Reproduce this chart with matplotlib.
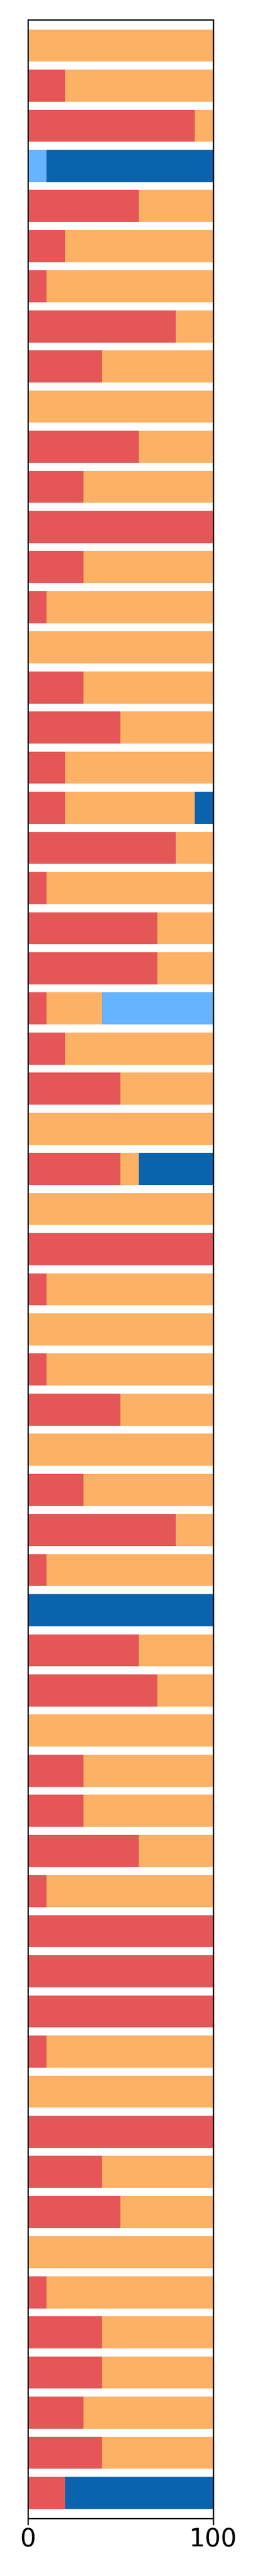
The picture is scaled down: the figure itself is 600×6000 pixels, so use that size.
import numpy as np
import matplotlib
matplotlib.use("Agg")
import matplotlib.pyplot as plt

# one row per bar, top to bottom, each segment in percent
red = [0, 20, 90, 0, 60, 20, 10, 80, 40, 0,
       60, 30, 100, 30, 10, 0, 30, 50, 20, 20,
       80, 10, 70, 70, 10, 20, 50, 0, 50, 0,
       100, 10, 0, 10, 50, 0, 30, 80, 10, 0,
       60, 70, 0, 30, 30, 60, 10, 100, 100, 100,
       10, 0, 100, 40, 50, 0, 10, 40, 40, 30,
       40, 20]
orange = [100, 80, 10, 0, 40, 80, 90, 20, 60, 100,
          40, 70, 0, 70, 90, 100, 70, 50, 80, 70,
          20, 90, 30, 30, 30, 80, 50, 100, 10, 100,
          0, 90, 100, 90, 50, 100, 70, 20, 90, 0,
          40, 30, 100, 70, 70, 40, 90, 0, 0, 0,
          90, 100, 0, 60, 50, 100, 90, 60, 60, 70,
          60, 0]
light_blue = [0, 0, 0, 10, 0, 0, 0, 0, 0, 0,
              0, 0, 0, 0, 0, 0, 0, 0, 0, 0,
              0, 0, 0, 0, 60, 0, 0, 0, 0, 0,
              0, 0, 0, 0, 0, 0, 0, 0, 0, 0,
              0, 0, 0, 0, 0, 0, 0, 0, 0, 0,
              0, 0, 0, 0, 0, 0, 0, 0, 0, 0,
              0, 0]
dark_blue = [0, 0, 0, 90, 0, 0, 0, 0, 0, 0,
             0, 0, 0, 0, 0, 0, 0, 0, 0, 10,
             0, 0, 0, 0, 0, 0, 0, 0, 40, 0,
             0, 0, 0, 0, 0, 0, 0, 0, 0, 100,
             0, 0, 0, 0, 0, 0, 0, 0, 0, 0,
             0, 0, 0, 0, 0, 0, 0, 0, 0, 0,
             0, 80]

series = [red, orange, light_blue, dark_blue]
colors = ["#e45756", "#fdb164", "#66b3ff", "#0a64ad"]

n = len(red)
y = np.arange(n)

fig = plt.figure(figsize=(6, 60), dpi=100)
ax = fig.add_axes([0.108, 0.0223, 0.718, 0.970])

left = np.zeros(n)
for vals, c in zip(series, colors):
    vals = np.array(vals, dtype=float)
    ax.barh(y, vals, left=left, height=0.8, color=c, linewidth=0)
    left += vals

ax.set_xlim(0, 100)
ax.set_ylim(n - 1 + 0.64, -0.64)
ax.set_xticks([0, 100])
ax.set_yticks([])
ax.tick_params(axis="x", labelsize=42, length=11, width=2.2)
for s in ax.spines.values():
    s.set_linewidth(2.2)

fig.savefig("out.png", dpi=100)
